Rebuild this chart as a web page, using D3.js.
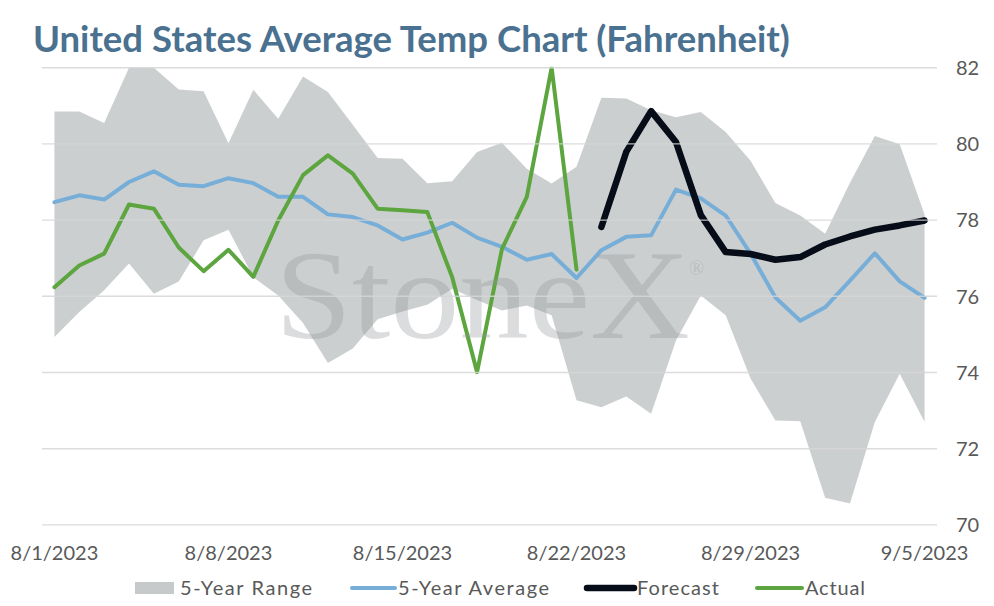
<!DOCTYPE html>
<html>
<head>
<meta charset="utf-8">
<script src="https://cdn.jsdelivr.net/npm/d3@7"></script>
<style>
  html, body { margin: 0; padding: 0; background: #fff; }
  svg { display: block; }
</style>
</head>
<body>
<svg id="chart" width="994" height="606" font-family="Lato, 'Noto Sans', sans-serif"></svg>
<script>
// ---- Data ----
const dates = ["8/1/2023","8/2/2023","8/3/2023","8/4/2023","8/5/2023","8/6/2023","8/7/2023","8/8/2023",
  "8/9/2023","8/10/2023","8/11/2023","8/12/2023","8/13/2023","8/14/2023","8/15/2023","8/16/2023",
  "8/17/2023","8/18/2023","8/19/2023","8/20/2023","8/21/2023","8/22/2023","8/23/2023","8/24/2023",
  "8/25/2023","8/26/2023","8/27/2023","8/28/2023","8/29/2023","8/30/2023","8/31/2023","9/1/2023",
  "9/2/2023","9/3/2023","9/4/2023","9/5/2023"];
const xTickLabels = ["8/1/2023","8/8/2023","8/15/2023","8/22/2023","8/29/2023","9/5/2023"];
const yTicks = [70, 72, 74, 76, 78, 80, 82];

const rangeLow = [74.93,75.59,76.16,76.86,76.07,76.39,77.47,77.75,76.50,76.02,75.30,74.25,74.63,75.40,
  75.60,75.78,76.20,75.90,75.63,75.76,75.50,73.27,73.09,73.37,72.92,74.84,76.02,75.50,73.84,72.74,
  72.72,70.71,70.56,72.70,73.97,72.70];
const rangeHigh = [80.85,80.85,80.55,82.0,82.0,81.43,81.38,80.02,81.42,80.66,81.77,81.36,80.50,79.63,
  79.61,78.97,79.02,79.79,80.03,79.35,78.96,79.40,81.21,81.19,80.88,80.70,80.84,80.31,79.56,78.45,
  78.12,77.64,78.98,80.21,79.99,78.15];
const fiveYearAvg = [78.47,78.65,78.54,79.00,79.28,78.93,78.89,79.10,78.97,78.61,78.61,78.15,78.08,77.86,
  77.49,77.67,77.93,77.54,77.30,76.96,77.11,76.48,77.21,77.56,77.60,78.80,78.57,78.12,77.12,75.97,
  75.36,75.71,76.41,77.13,76.39,75.96];
const actual = [76.24,76.81,77.12,78.41,78.30,77.28,76.66,77.22,76.51,77.99,79.18,79.70,79.22,78.30,
  78.26,78.21,76.50,74.01,77.24,78.61,82.00,76.70,null,null,null,null,null,null,null,null,null,null,
  null,null,null,null];
const forecast = [null,null,null,null,null,null,null,null,null,null,null,null,null,null,null,null,null,
  null,null,null,null,null,77.82,79.79,80.86,80.05,78.13,77.16,77.11,76.96,77.03,77.36,77.57,77.75,
  77.86,77.99];

const seriesNames = ["5-Year Range", "5-Year Average", "Forecast", "Actual"];

// ---- Layout ----
const svg = d3.select("#chart");
const plotL = 42, plotR = 937, plotT = 67.7, plotB = 524.9;

const x = d3.scaleBand().domain(dates).range([plotL, plotR]).padding(0);
const cx = d => x(d) + x.bandwidth() / 2;
const y = d3.scaleLinear().domain([70, 82]).range([plotB, plotT]);

const COL = {
  range: "#c6cacb",
  avg: "#77aed8",
  fc: "#060d18",
  act: "#5da53f",
  grid: "#d6d6d6",
  axis: "#595959",
  title: "#4a7190"
};

svg.append("defs").append("clipPath").attr("id", "clip")
  .append("rect").attr("x", plotL).attr("y", plotT - 1).attr("width", plotR - plotL).attr("height", plotB - plotT + 2);

// fit helper: stretch letter spacing so a text spans a target width
function fitWidth(sel, target) {
  const len = sel.node().getComputedTextLength();
  const n = sel.text().length;
  if (n > 1) sel.attr("letter-spacing", (target - len) / (n - 1));
}

// Title
const title = svg.append("text")
  .attr("x", 33).attr("y", 52)
  .attr("fill", COL.title)
  .attr("font-weight", 700)
  .attr("font-size", 30)
  .text("United States Average Temp Chart (Fahrenheit)");
{
  const len = title.node().getComputedTextLength();
  title.attr("font-size", 30 * 757 / len);
}

const plot = svg.append("g").attr("clip-path", "url(#clip)");

// Range area
const rows = dates.map((d, i) => ({d, lo: rangeLow[i], hi: rangeHigh[i], avg: fiveYearAvg[i], act: actual[i], fc: forecast[i]}));
plot.append("path")
  .datum(rows)
  .attr("fill", COL.range)
  .attr("fill-opacity", 0.9)
  .attr("d", d3.area().x(r => cx(r.d)).y0(r => y(r.lo)).y1(r => y(r.hi)));

// Watermark
const wm = svg.append("g");
wm.append("text")
  .attr("x", 275).attr("y", 338)
  .style("font-family", "'Liberation Serif', 'DejaVu Serif', serif")
  .attr("font-size", 128)
  .attr("textLength", 415)
  .attr("lengthAdjust", "spacingAndGlyphs")
  .attr("fill", "#8f9597")
  .attr("fill-opacity", 0.33)
  .text("StoneX");
wm.append("text")
  .attr("x", 689).attr("y", 275)
  .style("font-family", "'Liberation Serif', 'DejaVu Serif', serif")
  .attr("font-size", 20)
  .attr("fill", "#8f9597")
  .attr("fill-opacity", 0.3)
  .text("®");

// Gridlines
svg.append("g").selectAll("line").data(yTicks).join("line")
  .attr("x1", plotL).attr("x2", plotR)
  .attr("y1", d => y(d)).attr("y2", d => y(d))
  .attr("stroke", COL.grid).attr("stroke-opacity", 0.85).attr("stroke-width", 1.4);

// Lines
const lineOf = key => d3.line().defined(r => r[key] != null).x(r => cx(r.d)).y(r => y(r[key]));
plot.append("path").datum(rows).attr("fill", "none").attr("stroke", COL.avg)
  .attr("stroke-width", 4).attr("stroke-linejoin", "round").attr("stroke-linecap", "round")
  .attr("d", lineOf("avg"));
plot.append("path").datum(rows).attr("fill", "none").attr("stroke", COL.fc)
  .attr("stroke-width", 6.5).attr("stroke-linejoin", "round").attr("stroke-linecap", "round")
  .attr("d", lineOf("fc"));
plot.append("path").datum(rows).attr("fill", "none").attr("stroke", COL.act)
  .attr("stroke-width", 4).attr("stroke-linejoin", "round").attr("stroke-linecap", "round")
  .attr("d", lineOf("act"));

// Right y axis labels
svg.append("g").selectAll("text").data(yTicks).join("text")
  .attr("x", 956).attr("y", d => y(d)).attr("dy", "0.36em")
  .attr("fill", COL.axis).attr("font-size", 20)
  .text(d => d);

// X axis labels
svg.append("g").selectAll("text").data(xTickLabels).join("text")
  .attr("x", d => cx(d)).attr("y", 560)
  .attr("text-anchor", "middle")
  .attr("fill", COL.axis).attr("font-size", 20)
  .text(d => d);

// Legend
const lg = svg.append("g");
const legendItems = [
  {name: seriesNames[0], type: "rect", x0: 135, x1: 174, tx: 180, tw: 132, color: COL.range},
  {name: seriesNames[1], type: "line", x0: 352, x1: 395, tx: 398, tw: 151, color: COL.avg, w: 4},
  {name: seriesNames[2], type: "line", x0: 587, x1: 634, tx: 637, tw: 82, color: COL.fc, w: 6.5},
  {name: seriesNames[3], type: "line", x0: 757, x1: 802, tx: 805, tw: 60, color: COL.act, w: 4}
];
legendItems.forEach(it => {
  if (it.type === "rect") {
    lg.append("rect").attr("x", it.x0).attr("y", 582).attr("width", it.x1 - it.x0).attr("height", 12).attr("fill", it.color);
  } else {
    lg.append("line").attr("x1", it.x0).attr("x2", it.x1).attr("y1", 588).attr("y2", 588)
      .attr("stroke", it.color).attr("stroke-width", it.w).attr("stroke-linecap", "round");
  }
  const t = lg.append("text").attr("x", it.tx).attr("y", 595).attr("fill", COL.axis).attr("font-size", 20).text(it.name);
  fitWidth(t, it.tw);
});
</script>
</body>
</html>
